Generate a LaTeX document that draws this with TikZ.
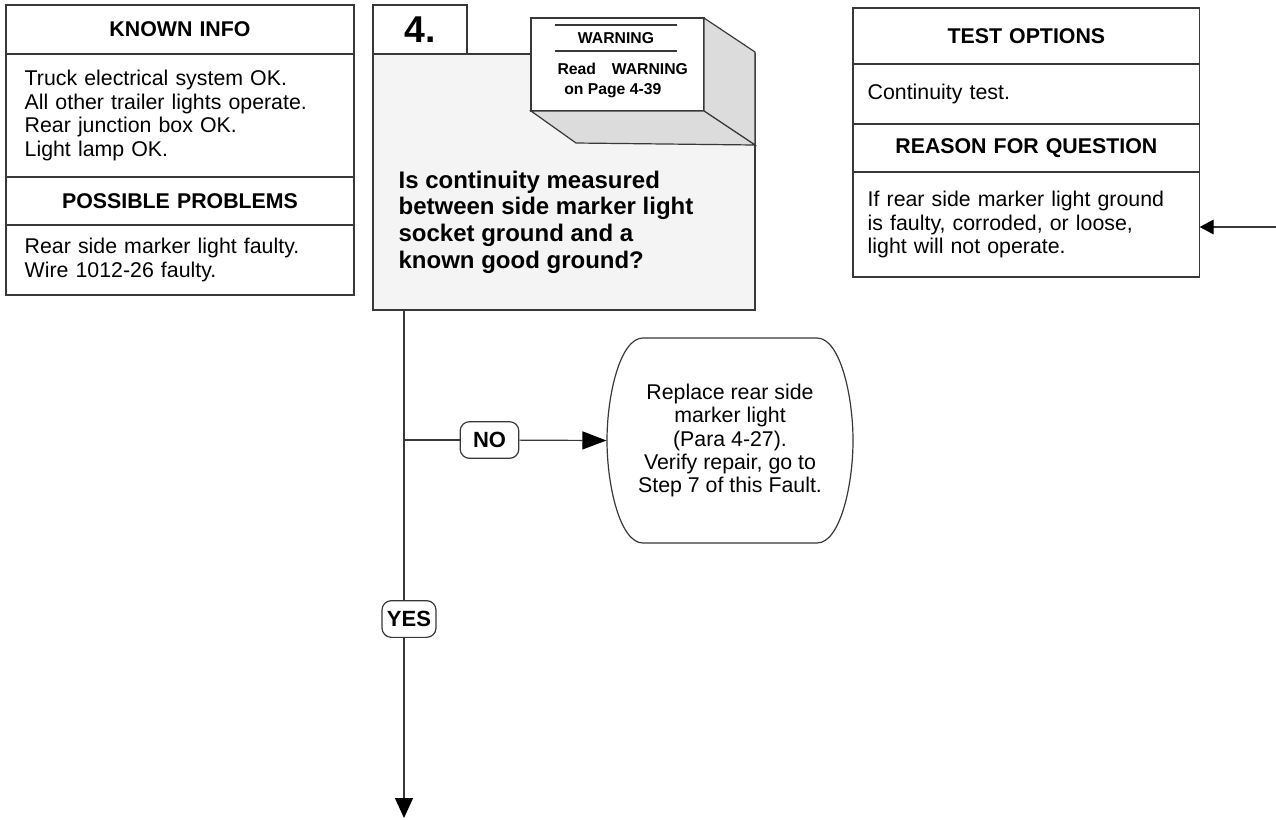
\documentclass[tikz,border=0pt]{standalone}
\usepackage{fontspec}
\setmainfont{Liberation Sans}
\usetikzlibrary{positioning, arrows.meta, calc}
\definecolor{edge}{HTML}{383838}
\definecolor{panelgray}{HTML}{F4F4F4}
\definecolor{facegray}{HTML}{DCDCDC}
\newcommand{\bodysize}{\fontsize{16}{17.6}\selectfont}
\tikzset{
    head/.style={draw=edge, outer sep=0pt, inner ysep=0pt, text width=#1, align=center, font=\bodysize\bfseries},
    body/.style={draw=edge, outer sep=0pt, inner ysep=0pt, text width=#1, align=left, font=\bodysize},
    answer/.style={draw=edge, fill=white, rounded corners=7pt, inner sep=0pt, minimum height=27.5pt, font=\fontsize{16.5}{18}\selectfont\bfseries},
}

\begin{document}
\begin{tikzpicture}[x=0.75pt, y=-0.75pt, line width=0.9pt]
    \useasboundingbox (0,0) rectangle (1276,819);

    % left column
    \node[head=233pt, inner xsep=14pt, minimum height=36.75pt, anchor=north west] (known) at (6,5) {KNOWN INFO};
    \node[body=233pt, inner xsep=14pt, minimum height=92.25pt, below=0pt of known] (knownlist) {Truck electrical system OK.\\All other trailer lights operate.\\Rear junction box OK.\\Light lamp OK.};
    \node[head=233pt, inner xsep=14pt, minimum height=36pt, below=0pt of knownlist] (problems) {POSSIBLE PROBLEMS};
    \node[body=233pt, inner xsep=14pt, minimum height=52.5pt, below=0pt of problems] (problemlist) {Rear side marker light faulty.\\Wire 1012-26 faulty.};

    % step 4 question
    \node[draw=edge, fill=panelgray, outer sep=0pt, minimum width=286.5pt, minimum height=192pt, anchor=north west] (q) at (373,54) {};
    \node[draw=edge, fill=white, outer sep=0pt, minimum width=70.5pt, minimum height=36.75pt, anchor=north west, font=\fontsize{28}{30}\selectfont\bfseries] (step) at (373,5) {4.};
    \node[anchor=west, align=left, inner sep=0pt, font=\fontsize{18}{20}\selectfont\bfseries] (qtext) at (398,222) {Is continuity measured\\between side marker light\\socket ground and a\\known good ground?};

    % warning block
    \node[draw=edge, fill=white, outer sep=0pt, minimum width=129.75pt, minimum height=69.75pt, anchor=north west] (warn) at (531,18) {};
    \draw[edge, fill=facegray] (warn.north east) -- ++(51,34) -- ++(0,93) -- (warn.south east) -- cycle;
    \draw[edge, fill=facegray] (warn.south west) -- ++(45,32) -- ($(warn.south east)+(51,34)$) -- (warn.south east) -- cycle;
    \node[inner sep=0pt, font=\fontsize{11.8}{15}\selectfont\bfseries] (warntitle) at (616,38) {WARNING};
    \draw[edge, line width=1.3pt] (555,25) -- (677,25);
    \draw[edge, line width=1.3pt] (555,51) -- (677,51);
    \node[anchor=north west, align=left, inner sep=0pt, font=\fontsize{11.8}{15}\selectfont\bfseries] (warntext) at (557,62) {Read\quad WARNING\\\hspace{5pt}on Page 4-39};

    % right column
    \node[head=238pt, inner xsep=11pt, minimum height=42pt, anchor=north west] (tests) at (853,8) {TEST OPTIONS};
    \node[body=238pt, inner xsep=11pt, minimum height=45pt, below=0pt of tests] (testlist) {Continuity test.};
    \node[head=238pt, inner xsep=11pt, minimum height=36pt, below=0pt of testlist] (reason) {REASON FOR QUESTION};
    \node[body=238pt, inner xsep=11pt, minimum height=78.75pt, below=0pt of reason] (reasontext) {If rear side marker light ground\\is faulty, corroded, or loose,\\light will not operate.};
    \coordinate (feed) at (1276,227);
    \draw[edge, -{Triangle[length=10.5pt, width=11pt, black]}] (feed) -- (feed -| reasontext.east);

    % repair step
    \node[align=center, inner sep=0pt, minimum width=184.5pt, minimum height=153.75pt, font=\bodysize] (fix) at (730,440.5) {Replace rear side\\marker light\\(Para 4-27).\\Verify repair, go to\\Step 7 of this Fault.};
    \draw[edge, shift={(fix.center)}] (-87,-102.5) -- (87,-102.5) .. controls (110,-102.5) and (123,-45) .. (123,0)
        .. controls (123,45) and (110,102.5) .. (87,102.5) -- (-87,102.5)
        .. controls (-110,102.5) and (-123,45) .. (-123,0) .. controls (-123,-45) and (-110,-102.5) .. (-87,-102.5) -- cycle;

    % flow lines
    \coordinate (trunk) at ($(q.south west)+(31,0)$);
    \coordinate (exit) at (404,818);
    \draw[edge, -{Triangle[length=15pt, width=13.5pt, black]}] (trunk) -- (exit);
    \node[answer, minimum width=44pt] (no) at (489.5,440) {NO};
    \draw[edge] (trunk |- no) -- (no);
    \draw[edge, -{Triangle[length=18pt, width=13.5pt, black]}] (no) -- (fix.west);
    \node[answer, minimum width=40.5pt] (yes) at (409,619) {YES};
\end{tikzpicture}
\end{document}
